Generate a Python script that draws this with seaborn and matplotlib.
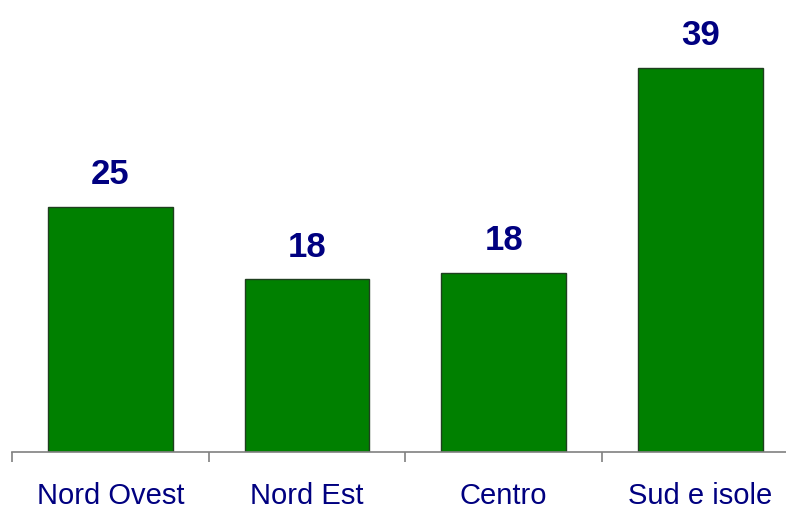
import matplotlib
matplotlib.use("Agg")
import matplotlib.pyplot as plt
import seaborn as sns
import pandas as pd

categories = ["Nord Ovest", "Nord Est", "Centro", "Sud e isole"]
values = [25.0, 17.6, 18.3, 39.2]
labels = ["25", "18", "18", "39"]

sns.set_theme(style="white")
plt.rcParams['font.family'] = ['Liberation Sans', 'DejaVu Sans']

df = pd.DataFrame({"cat": categories, "val": values})

fig = plt.figure(figsize=(7.86, 5.12), dpi=100)
ax = fig.add_axes([12/786, 60/512, 774/786, 452/512])
sns.barplot(data=df, x="cat", y="val", color="#008000", saturation=1,
            width=0.635, edgecolor="#1f3f1f", linewidth=1.0, ax=ax)

ax.set_xlabel("")
ax.set_ylabel("")
ax.set_yticks([])
for s in ["top", "right", "left"]:
    ax.spines[s].set_visible(False)
ax.spines["bottom"].set_color("#808080")
ax.spines["bottom"].set_linewidth(1.2)

ax.set_xticks([-0.5, 0.5, 1.5, 2.5, 3.5])
ax.set_xticklabels([])
ax.tick_params(axis="x", which="major", direction="out", length=7, width=1.2,
               color="#808080", bottom=True)
ax.set_xlim(-0.5, 3.435)
ax.set_ylim(0, 46.1)

for i, c in enumerate(categories):
    ax.annotate(c, xy=(i, 0), xytext=(0, -37.5), textcoords="offset points",
                ha="center", va="baseline", fontsize=21, color="#000080",
                annotation_clip=False)

for i, (v, l) in enumerate(zip(values, labels)):
    ax.annotate(l, xy=(i, v), xytext=(0, 16.5), textcoords="offset points",
                ha="center", va="baseline", fontsize=25, fontweight="bold",
                color="#000080", annotation_clip=False)

fig.savefig("out.png", dpi=100)
